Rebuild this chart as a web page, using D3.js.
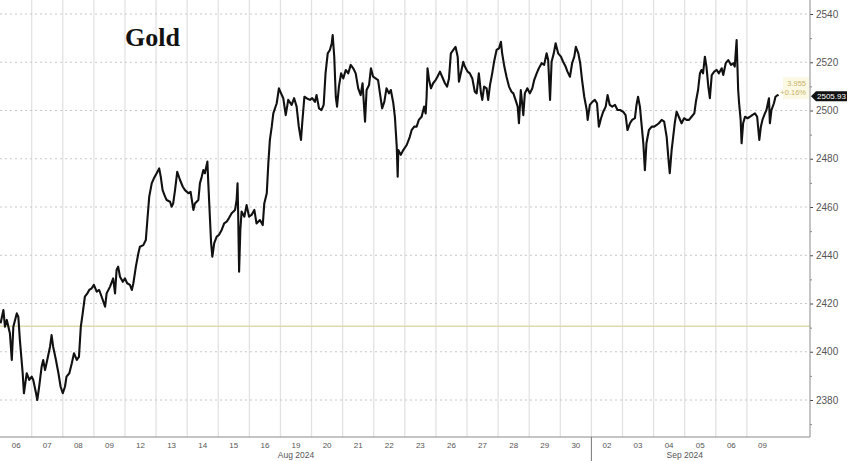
<!DOCTYPE html>
<html>
<head>
<meta charset="utf-8">
<script src="https://cdnjs.cloudflare.com/ajax/libs/d3/7.8.5/d3.min.js"></script>
<style>
  body { margin: 0; background: #fff; }
  svg { display: block; font-family: "Liberation Sans", Arial, sans-serif; }
</style>
</head>
<body>
<script>
// trading sessions shown on the x axis
var sessionDays = ["06","07","08","09","12","13","14","15","16","19","20","21","22","23",
                   "26","27","28","29","30","02","03","04","05","06","09"];
var months = [
  {label: "Aug 2024", from: 0, to: 19},
  {label: "Sep 2024", from: 19, to: 25}
];

// price axis
var yTicks = [2380, 2400, 2420, 2440, 2460, 2480, 2500, 2520, 2540];
var yMinorTicks = [2370, 2390, 2410, 2430, 2450, 2470, 2490, 2510, 2530];

// reference level (yellow line) and last quote
var refLevel = 2410.6;
var lastPrice = 2505.93;
var changeAbs = "3.955";
var changePct = "+0.16%";

// intraday gold prices, [session position, price], one row per session
var goldSeries = [
  [0,2411.8],[0.09,2417.3],[0.14,2410.4],[0.2,2413.2],[0.3,2407.6],[0.36,2396.6],[0.41,2410.4],[0.52,2415.9],[0.57,2414.5],[0.62,2404.9],[0.71,2391.1],[0.75,2382.8],[0.84,2391.1],[0.92,2388.3],
  [1,2389.7],[1.05,2388.3],[1.14,2382.8],[1.18,2380],[1.24,2385.5],[1.32,2393.8],[1.37,2396.6],[1.43,2392.4],[1.5,2396.6],[1.59,2402.1],[1.64,2406.9],[1.69,2402.1],[1.78,2396.6],[1.86,2391.1],[1.93,2385.5],
  [2,2382.8],[2.07,2385.5],[2.12,2389.7],[2.21,2391.1],[2.29,2395.2],[2.36,2399.4],[2.45,2396.6],[2.52,2397.9],[2.58,2410.4],[2.64,2415.9],[2.71,2422.8],[2.79,2424.2],[2.85,2425.6],[2.93,2426.3],
  [3,2427.7],[3.09,2424.9],[3.17,2425.6],[3.25,2422.8],[3.36,2418.7],[3.41,2424.2],[3.52,2427],[3.62,2430.4],[3.68,2424.2],[3.73,2433.9],[3.78,2435.3],[3.84,2431.1],[3.93,2429],
  [4,2430.4],[4.07,2428.4],[4.16,2427.7],[4.22,2425.6],[4.27,2428.4],[4.35,2435.3],[4.43,2440.8],[4.48,2443.5],[4.59,2444.2],[4.67,2446.3],[4.72,2454.6],[4.78,2464.3],[4.86,2469.8],[4.93,2471.9],
  [5.02,2474],[5.1,2476],[5.15,2472.6],[5.21,2467],[5.29,2464.3],[5.34,2462.9],[5.45,2462.2],[5.5,2460.1],[5.55,2461.5],[5.61,2467],[5.68,2474.6],[5.77,2471.2],[5.86,2468.4],[5.93,2467],
  [6.04,2465.7],[6.11,2466.3],[6.2,2458.8],[6.25,2461.5],[6.36,2462.9],[6.41,2469.8],[6.47,2472.6],[6.52,2475.3],[6.57,2474],[6.65,2478.8],[6.68,2469.8],[6.73,2456],[6.77,2445],[6.81,2439.4],[6.87,2445],[6.95,2447.7],
  [7.02,2448.4],[7.11,2450.5],[7.19,2453.2],[7.27,2453.9],[7.34,2455.3],[7.43,2457.4],[7.54,2458.8],[7.59,2462.9],[7.62,2469.8],[7.64,2457.4],[7.67,2433.2],[7.71,2450.5],[7.75,2458.1],[7.84,2456],[7.91,2460.8],[7.99,2456],
  [8.07,2456.7],[8.16,2458.8],[8.23,2453.2],[8.34,2454.6],[8.43,2452.5],[8.48,2461.5],[8.56,2465.7],[8.61,2478.1],[8.66,2487.8],[8.72,2493.3],[8.77,2498.8],[8.88,2503],[8.95,2509.2],
  [9.02,2507.1],[9.09,2505.1],[9.17,2498.1],[9.25,2504.4],[9.36,2502.3],[9.44,2505.1],[9.52,2501.6],[9.59,2493.3],[9.66,2487.8],[9.7,2494.7],[9.77,2505.7],[9.84,2505.1],[9.95,2504.4],
  [10.02,2505.1],[10.11,2503.6],[10.16,2506.4],[10.24,2500.9],[10.32,2500.2],[10.39,2502.3],[10.45,2515.4],[10.52,2523.7],[10.59,2525.1],[10.65,2527.9],[10.68,2531.3],[10.73,2522.3],[10.78,2505.7],[10.82,2501.6],[10.88,2509.9],[10.95,2515.4],
  [11.02,2513.3],[11.1,2516.8],[11.18,2515.4],[11.26,2518.9],[11.34,2517.5],[11.42,2515.4],[11.5,2509.2],[11.58,2506.4],[11.64,2511.3],[11.72,2495.4],[11.77,2508.5],[11.85,2510.6],[11.91,2517.5],[11.98,2514],
  [12.06,2513.3],[12.14,2512.6],[12.2,2507.1],[12.27,2500.9],[12.34,2503.6],[12.41,2509.2],[12.49,2507.1],[12.55,2508.5],[12.63,2503],[12.68,2497.4],[12.74,2485],[12.77,2472.6],[12.79,2483.6],[12.87,2481.6],[12.95,2483.6],
  [13.06,2485.7],[13.16,2489.1],[13.22,2491.9],[13.3,2493.3],[13.38,2493.3],[13.45,2496.1],[13.54,2497.4],[13.62,2501.6],[13.67,2498.8],[13.7,2505.7],[13.73,2517.5],[13.78,2512.6],[13.84,2509.2],[13.91,2511.3],[13.99,2512.6],
  [14.05,2514],[14.13,2516.1],[14.2,2514],[14.29,2511.3],[14.36,2509.9],[14.42,2513.3],[14.48,2523.7],[14.56,2525.1],[14.63,2526.4],[14.7,2522.3],[14.74,2511.9],[14.8,2515.4],[14.88,2520.2],[14.93,2518.2],
  [15.02,2516.1],[15.09,2515.4],[15.17,2513.3],[15.25,2507.8],[15.31,2507.1],[15.38,2515.4],[15.45,2507.1],[15.49,2504.4],[15.55,2509.9],[15.63,2509.2],[15.68,2504.4],[15.74,2510.6],[15.81,2515.4],[15.87,2520.2],[15.95,2525.1],
  [16.03,2525.8],[16.09,2528.5],[16.13,2523.7],[16.2,2518.2],[16.27,2514],[16.35,2509.9],[16.43,2507.8],[16.49,2507.1],[16.56,2504.4],[16.63,2501.6],[16.67,2494.7],[16.73,2508.5],[16.81,2498.1],[16.86,2507.1],[16.94,2509.2],
  [17.02,2507.1],[17.1,2509.2],[17.16,2512.6],[17.24,2515.4],[17.31,2517.5],[17.4,2519.6],[17.48,2518.9],[17.56,2523.7],[17.61,2520.9],[17.67,2504.4],[17.72,2520.2],[17.79,2523.7],[17.85,2527.9],[17.93,2523.7],
  [18.02,2522.3],[18.09,2520.2],[18.17,2518.2],[18.23,2516.1],[18.31,2514],[18.38,2519.6],[18.45,2522.3],[18.5,2526.4],[18.58,2523.7],[18.64,2519.6],[18.7,2512.6],[18.77,2505.7],[18.85,2500.2],[18.88,2496.1],[18.95,2502.3],
  [19.03,2503.6],[19.11,2504.4],[19.18,2503],[19.24,2493.3],[19.31,2496.8],[19.38,2499.5],[19.46,2501.6],[19.52,2506.4],[19.59,2502.3],[19.67,2501.6],[19.76,2502.3],[19.84,2500.2],[19.92,2500.2],
  [20.02,2499.5],[20.1,2498.1],[20.16,2491.9],[20.24,2494.7],[20.31,2496.1],[20.4,2496.8],[20.45,2502.3],[20.5,2505.7],[20.56,2501.6],[20.61,2494.7],[20.67,2486.4],[20.72,2475.3],[20.77,2486.4],[20.85,2491.9],[20.94,2493.3],
  [21.02,2493.3],[21.1,2494],[21.17,2494.7],[21.26,2496.1],[21.34,2495.4],[21.42,2489.1],[21.49,2478.1],[21.52,2474],[21.58,2483.6],[21.63,2489.1],[21.68,2494.7],[21.74,2499.5],[21.81,2497.4],[21.9,2494.7],[21.98,2496.8],
  [22.06,2496.1],[22.14,2496.1],[22.22,2497.4],[22.31,2498.8],[22.36,2503.6],[22.43,2508.5],[22.49,2515.4],[22.54,2516.8],[22.59,2515.4],[22.65,2522.3],[22.7,2518.2],[22.76,2509.9],[22.81,2505.1],[22.87,2514.7],[22.95,2516.1],
  [23.03,2516.8],[23.1,2515.4],[23.19,2517.5],[23.24,2514.7],[23.32,2519.6],[23.4,2520.9],[23.49,2518.9],[23.56,2519.6],[23.61,2518.2],[23.67,2529.2],[23.72,2508.5],[23.75,2503],[23.8,2496.1],[23.83,2486.4],[23.88,2494.7],[23.94,2497.4],
  [24.02,2496.8],[24.1,2497.4],[24.17,2498.1],[24.26,2498.8],[24.33,2497.4],[24.4,2487.8],[24.45,2493.3],[24.5,2496.1],[24.58,2498.8],[24.63,2500.2],[24.71,2505.1],[24.74,2494.7],[24.79,2500.2],[24.87,2503],[24.92,2505.7],[24.99,2506.4],[25,2505.93]
];

var W = 848, H = 461;
var plotRight = 810, plotBottom = 437;

var svg = d3.select("body").append("svg")
    .attr("width", W)
    .attr("height", H);

var x = d3.scaleLinear().domain([0, 26.03]).range([0.6, plotRight]);
var y = d3.scaleLinear().domain([2380, 2540]).range([400, 14]);

// vertical grid (session boundaries)
svg.append("g").selectAll("line")
    .data(d3.range(1, sessionDays.length))
  .enter().append("line")
    .attr("x1", function(d) { return x(d); })
    .attr("x2", function(d) { return x(d); })
    .attr("y1", 0).attr("y2", plotBottom)
    .attr("stroke", "#e2e2e2")
    .attr("stroke-width", 1.3);

// horizontal dotted grid
svg.append("g").selectAll("line")
    .data(yTicks)
  .enter().append("line")
    .attr("x1", 0).attr("x2", plotRight)
    .attr("y1", function(d) { return y(d); })
    .attr("y2", function(d) { return y(d); })
    .attr("stroke", "#c8c8c8")
    .attr("stroke-dasharray", "2,3");

// reference level
svg.append("line")
    .attr("x1", 0).attr("x2", plotRight)
    .attr("y1", y(refLevel)).attr("y2", y(refLevel))
    .attr("stroke", "#dedba8")
    .attr("stroke-width", 1.6);

// title
svg.append("text")
    .attr("x", 125).attr("y", 46)
    .attr("font-family", "'Liberation Serif', 'DejaVu Serif', serif")
    .attr("font-weight", "bold")
    .attr("font-size", 26)
    .attr("fill", "#111")
    .text("Gold");

// price line
var line = d3.line()
    .x(function(d) { return x(d[0]); })
    .y(function(d) { return y(d[1]); });

svg.append("path")
    .datum(goldSeries)
    .attr("d", line)
    .attr("fill", "none")
    .attr("stroke", "#111")
    .attr("stroke-width", 2.1)
    .attr("stroke-linejoin", "round");

// right axis
var yAxis = d3.axisRight(y).tickValues(yTicks).tickSize(3).tickPadding(3).tickFormat(d3.format("d"));
var yAxisMinor = d3.axisRight(y).tickValues(yMinorTicks).tickSize(2).tickFormat("");

var gy = svg.append("g").attr("transform", "translate(" + plotRight + ",0)").call(yAxis);
var gyMinor = svg.append("g").attr("transform", "translate(" + plotRight + ",0)").call(yAxisMinor);
gy.select(".domain").remove();
gyMinor.select(".domain").remove();
gy.selectAll(".tick line").attr("stroke", "#444");
gyMinor.selectAll(".tick line").attr("stroke", "#888");
gy.selectAll(".tick text")
    .attr("font-size", 10)
    .attr("font-family", "'Liberation Sans', Arial, sans-serif")
    .attr("fill", "#555");

svg.append("line")
    .attr("x1", plotRight).attr("x2", plotRight)
    .attr("y1", 0).attr("y2", plotBottom)
    .attr("stroke", "#8a8a8a");

// bottom axis line
svg.append("line")
    .attr("x1", 0).attr("x2", plotRight)
    .attr("y1", plotBottom).attr("y2", plotBottom)
    .attr("stroke", "#8a8a8a");

// month separator below axis
svg.append("line")
    .attr("x1", x(months[1].from)).attr("x2", x(months[1].from))
    .attr("y1", plotBottom).attr("y2", H)
    .attr("stroke", "#777");

// day labels
svg.append("g").selectAll("text")
    .data(sessionDays)
  .enter().append("text")
    .attr("x", function(d, i) { return x(i + 0.5); })
    .attr("y", 448)
    .attr("text-anchor", "middle")
    .attr("font-size", 8)
    .attr("fill", "#555")
    .text(function(d) { return d; });

// month labels
svg.append("g").selectAll("text")
    .data(months)
  .enter().append("text")
    .attr("x", function(d) { return x((d.from + d.to) / 2); })
    .attr("y", 458)
    .attr("text-anchor", "middle")
    .attr("font-size", 8.5)
    .attr("fill", "#555")
    .text(function(d) { return d.label; });

// change labels next to last value
var yl = y(lastPrice);
svg.append("rect")
    .attr("x", 783).attr("y", yl - 19)
    .attr("width", 26).attr("height", 22)
    .attr("fill", "#fbf9e4");
svg.append("text")
    .attr("x", 806).attr("y", yl - 10)
    .attr("text-anchor", "end")
    .attr("font-size", 7.5)
    .attr("fill", "#c9b36a")
    .text(changeAbs);
svg.append("text")
    .attr("x", 806).attr("y", yl - 1)
    .attr("text-anchor", "end")
    .attr("font-size", 7.5)
    .attr("fill", "#c9b36a")
    .text(changePct);

// last price tag
svg.append("path")
    .attr("d", "M" + (plotRight + 1) + "," + yl +
               "L" + (plotRight + 6) + "," + (yl - 5) +
               "L" + (W - 1) + "," + (yl - 5) +
               "L" + (W - 1) + "," + (yl + 5) +
               "L" + (plotRight + 6) + "," + (yl + 5) + "Z")
    .attr("fill", "#111");
svg.append("text")
    .attr("x", plotRight + 7).attr("y", yl + 3)
    .attr("font-size", 8)
    .attr("fill", "#fff")
    .text(lastPrice.toFixed(2));
</script>
</body>
</html>
